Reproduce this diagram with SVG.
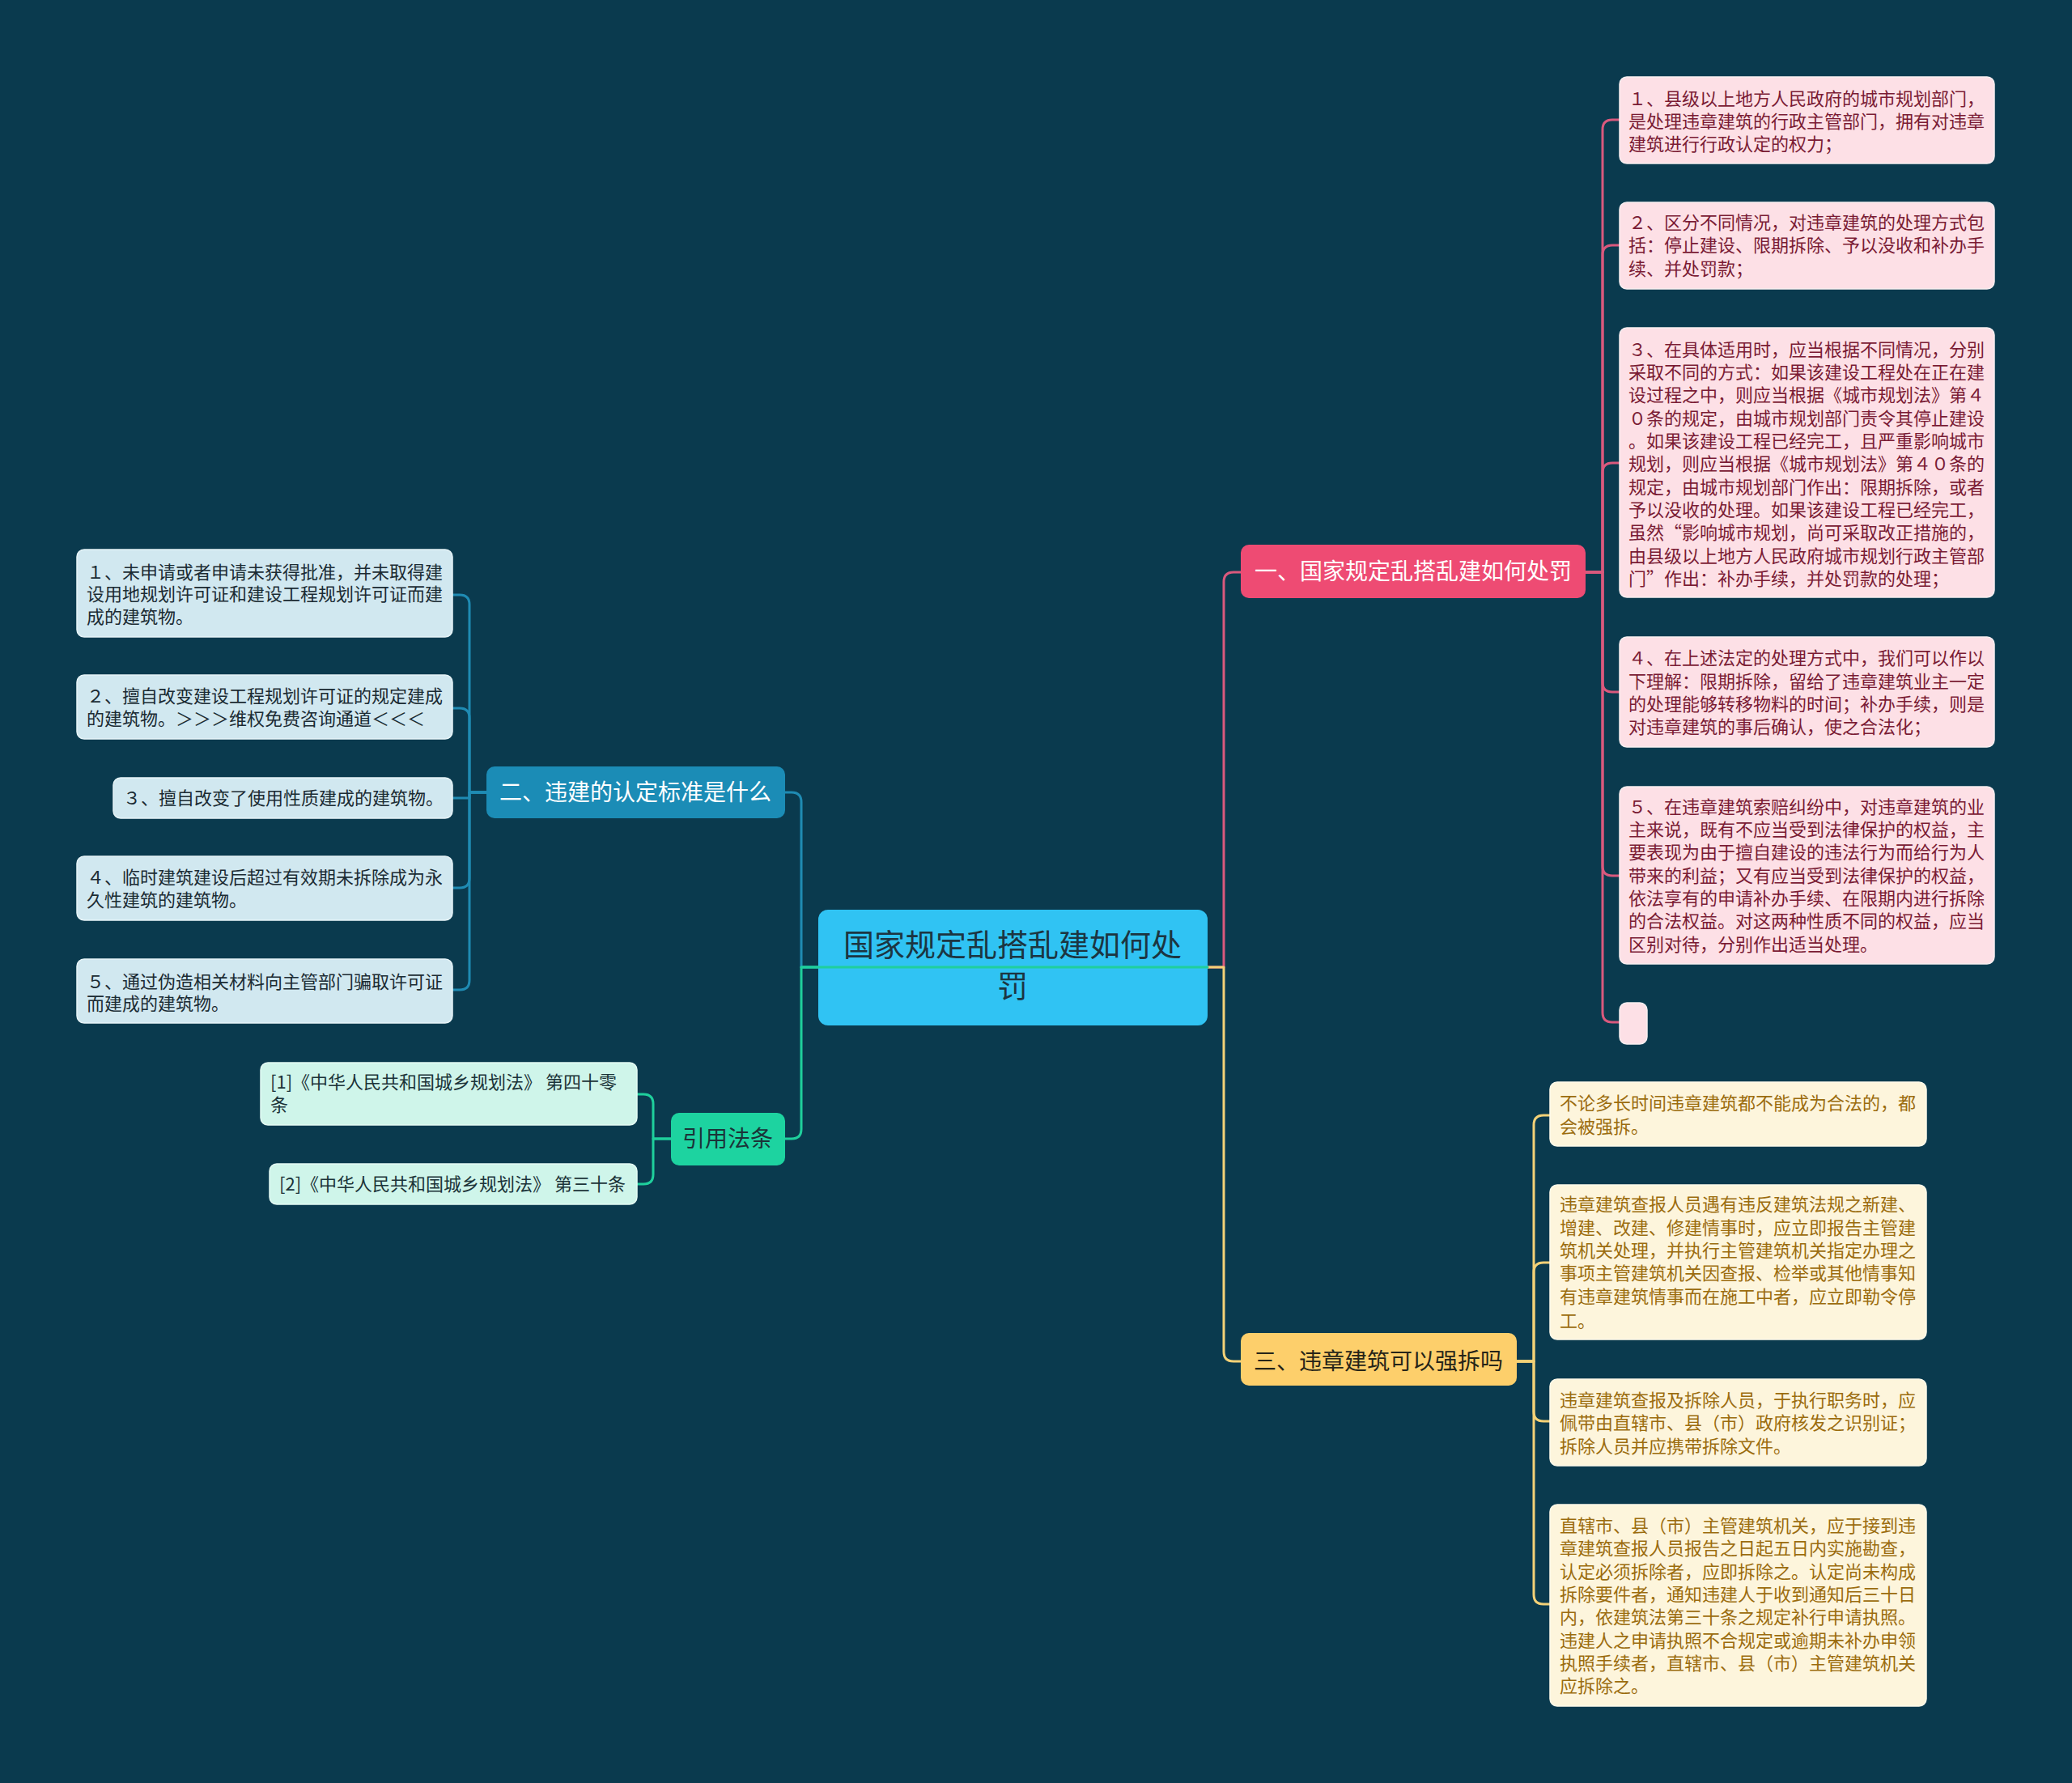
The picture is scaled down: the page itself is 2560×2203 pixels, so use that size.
<svg xmlns="http://www.w3.org/2000/svg" width="2560" height="2203" viewBox="0 0 2560 2203">
<style>
text{font-family:"Noto Sans CJK SC","Noto Sans",sans-serif;}
.c{fill:none;stroke-width:3;stroke-linejoin:round;stroke-linecap:round}
.pk{stroke:#d9597d}.tl{stroke:#1f8bb3}.gr{stroke:#1fcf9c}.yl{stroke:#f3d177}
.lp{fill:#fde0e6;stroke:#f7eef0;stroke-width:1.5}
.lb{fill:#d1e8f0;stroke:#e6f3f7;stroke-width:1.5}
.lg{fill:#cff5ea;stroke:#e4faf3;stroke-width:1.5}
.ly{fill:#fdf5dc;stroke:#fffaea;stroke-width:1.5}
.tp{font-size:22px;fill:#7a1b34}
.tb{font-size:22px;fill:#1b2b33}
.tg{font-size:22px;fill:#1b3338}
.ty{font-size:22px;fill:#9b6c0e}
.br{font-size:28px;text-anchor:middle}
</style>
<rect width="2560" height="2203" fill="#0a3a4e"/>
<g id="connectors">
<path class="c pk" d="M1492 1195 H1512 V719 Q1512 707 1524 707 H1533"/>
<path class="c yl" d="M1492 1195 H1512 V1670 Q1512 1682 1524 1682 H1533"/>
<path class="c tl" d="M1011 1195 H990 V991 Q990 979 978 979 H970"/>
<path class="c gr" d="M1011 1195 H990 V1395 Q990 1407 978 1407 H970"/>
<path class="c pk" d="M1959 707 H1980 V160 Q1980 148 1992 148 H2001"/>
<path class="c pk" d="M1959 707 H1980 V315 Q1980 303 1992 303 H2001"/>
<path class="c pk" d="M1959 707 H1980 V584 Q1980 572 1992 572 H2001"/>
<path class="c pk" d="M1959 707 H1980 V843 Q1980 855 1992 855 H2001"/>
<path class="c pk" d="M1959 707 H1980 V1070 Q1980 1082 1992 1082 H2001"/>
<path class="c pk" d="M1959 707 H1980 V1251 Q1980 1263 1992 1263 H2001"/>
<path class="c tl" d="M601 979 H580 V747 Q580 735 568 735 H559"/>
<path class="c tl" d="M601 979 H580 V887 Q580 875 568 875 H559"/>
<path class="c tl" d="M601 979 H580 V986 H558"/>
<path class="c tl" d="M601 979 H580 V1085 Q580 1097 568 1097 H559"/>
<path class="c tl" d="M601 979 H580 V1211 Q580 1223 568 1223 H559"/>
<path class="c gr" d="M829 1407 H807 V1364 Q807 1352 795 1352 H787"/>
<path class="c gr" d="M829 1407 H807 V1451 Q807 1463 795 1463 H787"/>
<path class="c yl" d="M1874 1682 H1895 V1390 Q1895 1378 1907 1378 H1915"/>
<path class="c yl" d="M1874 1682 H1895 V1572 Q1895 1560 1907 1560 H1915"/>
<path class="c yl" d="M1874 1682 H1895 V1744 Q1895 1756 1907 1756 H1915"/>
<path class="c yl" d="M1874 1682 H1895 V1970 Q1895 1982 1907 1982 H1915"/>
</g>
<g id="center">
<rect x="1011" y="1124" width="481" height="143" rx="12" fill="#30c3f3"/>
<text x="1251" y="1181" font-size="38" text-anchor="middle" fill="#1c3541">国家规定乱搭乱建如何处</text>
<text x="1251" y="1232" font-size="38" text-anchor="middle" fill="#1c3541">罚</text>
</g>
<path class="c gr" d="M990 1195 H1492"/>
<g id="b1">
<rect x="1533" y="673" width="426" height="66" rx="10" fill="#ee4b73"/>
<text class="br" x="1746" y="716" fill="#ffffff">一、国家规定乱搭乱建如何处罚</text>
</g>
<g id="b2">
<rect x="601" y="947" width="369" height="64" rx="10" fill="#1b8cb6"/>
<text class="br" x="785" y="989" fill="#ffffff">二、违建的认定标准是什么</text>
</g>
<g id="b3">
<rect x="1533" y="1647" width="341" height="65" rx="10" fill="#fdcf6b"/>
<text class="br" x="1703" y="1692" fill="#262418">三、违章建筑可以强拆吗</text>
</g>
<g id="b4">
<rect x="829" y="1375" width="141" height="65" rx="10" fill="#1dd3a0"/>
<text class="br" x="899" y="1417" fill="#1b3338">引用法条</text>
</g>
<g id="p1">
<rect class="lp" x="2001" y="95" width="463" height="107" rx="9"/>
<text class="tp" x="2012" y="130">１、县级以上地方人民政府的城市规划部门，</text>
<text class="tp" x="2012" y="158">是处理违章建筑的行政主管部门，拥有对违章</text>
<text class="tp" x="2012" y="186">建筑进行行政认定的权力；</text>
</g>
<g id="p2">
<rect class="lp" x="2001" y="250" width="463" height="107" rx="9"/>
<text class="tp" x="2012" y="283">２、区分不同情况，对违章建筑的处理方式包</text>
<text class="tp" x="2012" y="311">括：停止建设、限期拆除、予以没收和补办手</text>
<text class="tp" x="2012" y="340">续、并处罚款；</text>
</g>
<g id="p3">
<rect class="lp" x="2001" y="405" width="463" height="333" rx="9"/>
<text class="tp" x="2012" y="440">３、在具体适用时，应当根据不同情况，分别</text>
<text class="tp" x="2012" y="468">采取不同的方式：如果该建设工程处在正在建</text>
<text class="tp" x="2012" y="496">设过程之中，则应当根据《城市规划法》第４</text>
<text class="tp" x="2012" y="525">０条的规定，由城市规划部门责令其停止建设</text>
<text class="tp" x="2012" y="553">。如果该建设工程已经完工，且严重影响城市</text>
<text class="tp" x="2012" y="581">规划，则应当根据《城市规划法》第４０条的</text>
<text class="tp" x="2012" y="610">规定，由城市规划部门作出：限期拆除，或者</text>
<text class="tp" x="2012" y="638">予以没收的处理。如果该建设工程已经完工，</text>
<text class="tp" x="2012" y="666">虽然“影响城市规划，尚可采取改正措施的，</text>
<text class="tp" x="2012" y="695">由县级以上地方人民政府城市规划行政主管部</text>
<text class="tp" x="2012" y="723">门”作出：补办手续，并处罚款的处理；</text>
</g>
<g id="p4">
<rect class="lp" x="2001" y="787" width="463" height="136" rx="9"/>
<text class="tp" x="2012" y="821">４、在上述法定的处理方式中，我们可以作以</text>
<text class="tp" x="2012" y="850">下理解：限期拆除，留给了违章建筑业主一定</text>
<text class="tp" x="2012" y="878">的处理能够转移物料的时间；补办手续，则是</text>
<text class="tp" x="2012" y="906">对违章建筑的事后确认，使之合法化；</text>
</g>
<g id="p5">
<rect class="lp" x="2001" y="972" width="463" height="219" rx="9"/>
<text class="tp" x="2012" y="1005">５、在违章建筑索赔纠纷中，对违章建筑的业</text>
<text class="tp" x="2012" y="1033">主来说，既有不应当受到法律保护的权益，主</text>
<text class="tp" x="2012" y="1061">要表现为由于擅自建设的违法行为而给行为人</text>
<text class="tp" x="2012" y="1090">带来的利益；又有应当受到法律保护的权益，</text>
<text class="tp" x="2012" y="1118">依法享有的申请补办手续、在限期内进行拆除</text>
<text class="tp" x="2012" y="1146">的合法权益。对这两种性质不同的权益，应当</text>
<text class="tp" x="2012" y="1175">区别对待，分别作出适当处理。</text>
</g>
<g id="p6">
<rect class="lp" x="2001" y="1239" width="34" height="51" rx="9"/>
</g>
<g id="l1">
<rect class="lb" x="95" y="679" width="464" height="108" rx="9"/>
<text class="tb" x="107" y="715">１、未申请或者申请未获得批准，并未取得建</text>
<text class="tb" x="107" y="742">设用地规划许可证和建设工程规划许可证而建</text>
<text class="tb" x="107" y="770">成的建筑物。</text>
</g>
<g id="l2">
<rect class="lb" x="95" y="834" width="464" height="79" rx="9"/>
<text class="tb" x="107" y="868">２、擅自改变建设工程规划许可证的规定建成</text>
<text class="tb" x="107" y="896">的建筑物。＞＞＞维权免费咨询通道＜＜＜</text>
</g>
<g id="l3">
<rect class="lb" x="140" y="961" width="419" height="50" rx="9"/>
<text class="tb" x="152" y="994">３、擅自改变了使用性质建成的建筑物。</text>
</g>
<g id="l4">
<rect class="lb" x="95" y="1058" width="464" height="79" rx="9"/>
<text class="tb" x="107" y="1092">４、临时建筑建设后超过有效期未拆除成为永</text>
<text class="tb" x="107" y="1120">久性建筑的建筑物。</text>
</g>
<g id="l5">
<rect class="lb" x="95" y="1185" width="464" height="79" rx="9"/>
<text class="tb" x="107" y="1221">５、通过伪造相关材料向主管部门骗取许可证</text>
<text class="tb" x="107" y="1248">而建成的建筑物。</text>
</g>
<g id="g1">
<rect class="lg" x="322" y="1313" width="465" height="77" rx="9"/>
<text class="tg" x="334" y="1345">[1]《中华人民共和国城乡规划法》 第四十零</text>
<text class="tg" x="334" y="1373">条</text>
</g>
<g id="g2">
<rect class="lg" x="333" y="1438" width="454" height="50" rx="9"/>
<text class="tg" x="345" y="1471">[2]《中华人民共和国城乡规划法》 第三十条</text>
</g>
<g id="y1">
<rect class="ly" x="1915" y="1337" width="465" height="79" rx="9"/>
<text class="ty" x="1927" y="1371">不论多长时间违章建筑都不能成为合法的，都</text>
<text class="ty" x="1927" y="1400">会被强拆。</text>
</g>
<g id="y2">
<rect class="ly" x="1915" y="1464" width="465" height="191" rx="9"/>
<text class="ty" x="1927" y="1496">违章建筑查报人员遇有违反建筑法规之新建、</text>
<text class="ty" x="1927" y="1525">增建、改建、修建情事时，应立即报告主管建</text>
<text class="ty" x="1927" y="1553">筑机关处理，并执行主管建筑机关指定办理之</text>
<text class="ty" x="1927" y="1581">事项主管建筑机关因查报、检举或其他情事知</text>
<text class="ty" x="1927" y="1610">有违章建筑情事而在施工中者，应立即勒令停</text>
<text class="ty" x="1927" y="1640">工。</text>
</g>
<g id="y3">
<rect class="ly" x="1915" y="1704" width="465" height="107" rx="9"/>
<text class="ty" x="1927" y="1738">违章建筑查报及拆除人员，于执行职务时，应</text>
<text class="ty" x="1927" y="1766">佩带由直辖市、县（市）政府核发之识别证；</text>
<text class="ty" x="1927" y="1795">拆除人员并应携带拆除文件。</text>
</g>
<g id="y4">
<rect class="ly" x="1915" y="1859" width="465" height="249" rx="9"/>
<text class="ty" x="1927" y="1893">直辖市、县（市）主管建筑机关，应于接到违</text>
<text class="ty" x="1927" y="1921">章建筑查报人员报告之日起五日内实施勘查，</text>
<text class="ty" x="1927" y="1950">认定必须拆除者，应即拆除之。认定尚未构成</text>
<text class="ty" x="1927" y="1978">拆除要件者，通知违建人于收到通知后三十日</text>
<text class="ty" x="1927" y="2006">内，依建筑法第三十条之规定补行申请执照。</text>
<text class="ty" x="1927" y="2035">违建人之申请执照不合规定或逾期未补办申领</text>
<text class="ty" x="1927" y="2063">执照手续者，直辖市、县（市）主管建筑机关</text>
<text class="ty" x="1927" y="2091">应拆除之。</text>
</g>
</svg>
